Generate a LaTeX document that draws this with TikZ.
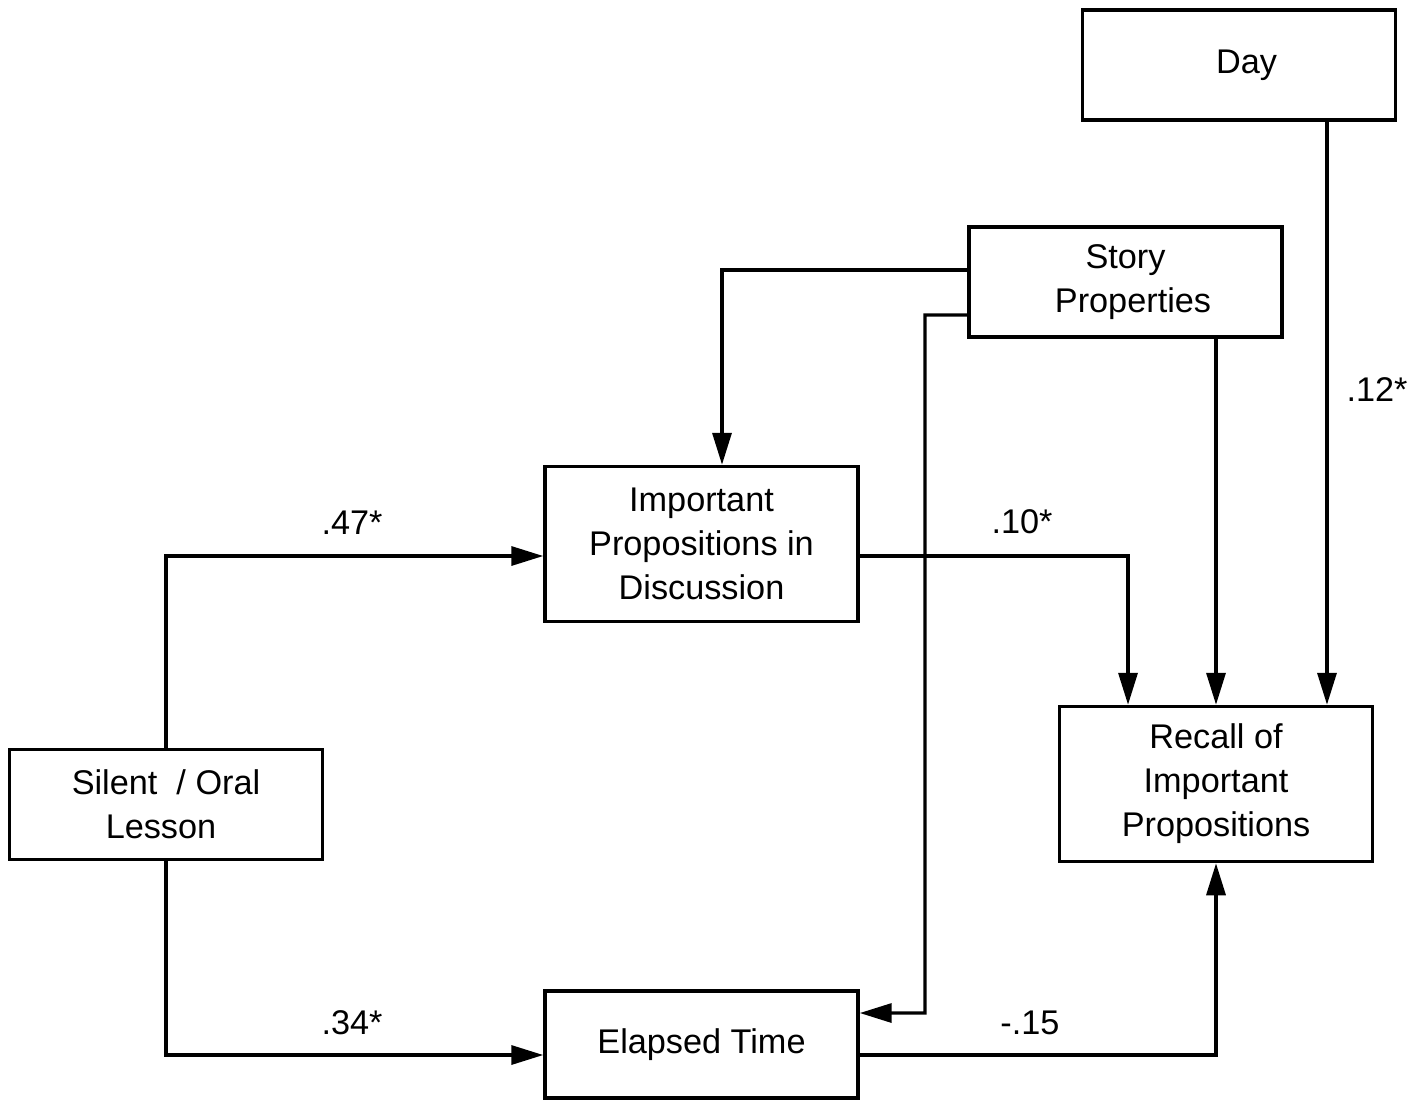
\documentclass[tikz,border=0pt]{standalone}
\usepackage{fontspec}
\setmainfont{Liberation Sans}
\usetikzlibrary{arrows.meta}
\begin{document}
\begin{tikzpicture}
[
    x=0.02cm, y=-0.02cm,
    every node/.style={font=\fontsize{19.5}{25}\selectfont},
    box/.style={shape=rectangle, draw, line width=2pt, align=center, inner sep=0pt, minimum width=6.26cm, minimum height=2.2cm},
    tallbox/.style={box, minimum height=3.1cm},
    arr/.style={line width=1.9pt, -{Triangle[length=0.64cm,width=0.38cm]}},
]
\useasboundingbox (0,0) rectangle (1426,1100);

\node[box](day) at (1239,65){\hspace*{0.3cm}Day};
\node[box](sp) at (1125.5,282){Story\\ \hspace*{0.3cm}Properties};
\node[tallbox](ipd) at (701.5,544){Important\\Propositions in\\Discussion};
\node[tallbox](rip) at (1216,784){Recall of\\Important\\Propositions};
\node[box](sl) at (166,804.5){Silent~ / Oral\\Lesson\hspace*{0.2cm}};
\node[box, minimum height=2.14cm](et) at (701.5,1044.5){Elapsed Time};

\draw[arr] (sl.north) |- ([yshift=-0.24cm]ipd.west);
\draw[arr] (sl.south) |- ([yshift=-0.21cm]et.west);
\draw[arr] ([yshift=0.24cm]sp.west) -| ([xshift=0.41cm]ipd.north);
\draw[arr] ([yshift=-0.66cm]sp.west) -| (925,1013) -- ([yshift=0.63cm]et.east);
\draw[arr] (sp.south -| rip.north) -- (rip.north);
\draw[arr] ([yshift=-0.24cm]ipd.east) -| ([xshift=-1.76cm]rip.north);
\coordinate (dayin) at ([xshift=2.22cm]rip.north);
\draw[arr] (day.south -| dayin) -- (dayin);
\draw[arr] ([yshift=-0.21cm]et.east) -| (rip.south);

\node(l47) at (352,523){.47*};
\node(l34) at (352,1023){.34*};
\node(l10) at (1022,522){.10*};
\node(l12) at (1377,390){.12*};
\node(l15) at (1030,1023){-.15};

\end{tikzpicture}
\end{document}
